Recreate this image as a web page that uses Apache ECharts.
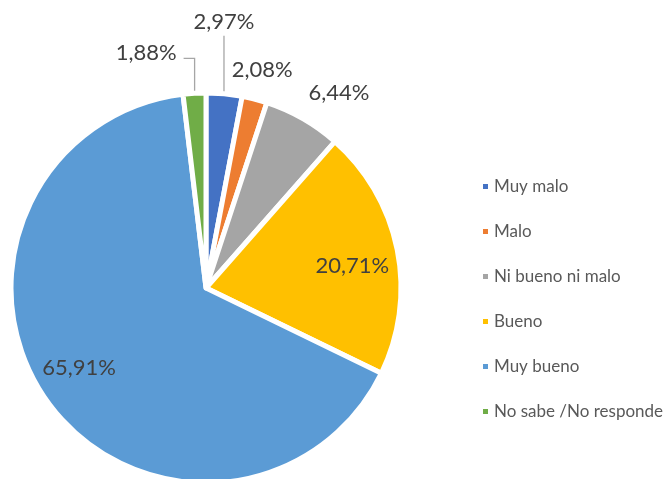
<!DOCTYPE html>
<html>
<head>
<meta charset="utf-8">
<script src="https://cdn.jsdelivr.net/npm/echarts@6/dist/echarts.min.js"></script>
<style>
  html, body { margin: 0; padding: 0; background: #fff; }
  #main { width: 664px; height: 479px; }
</style>
</head>
<body>
<div id="main"></div>
<script>
// datos (porcentajes)
const categories = ["Muy malo", "Malo", "Ni bueno ni malo", "Bueno", "Muy bueno", "No sabe /No responde"];
const values = [2.97, 2.08, 6.44, 20.71, 65.91, 1.88];
const colors = ["#4472C4", "#ED7D31", "#A5A5A5", "#FFC000", "#5B9BD5", "#70AD47"];

const cx = 206, cy = 288, R = 195;
const total = values.reduce((a, b) => a + b, 0);

// ángulo medio de cada porción (radianes, sentido horario desde las 12)
function midAngle(i) {
  let s = 0;
  for (let k = 0; k < i; k++) s += values[k];
  return (90 - (s + values[i] / 2) / total * 360) * Math.PI / 180;
}

function fmt(v) {
  return v.toFixed(2).replace(".", ",") + "%";
}

const chart = echarts.init(document.getElementById("main"));

chart.setOption({
  animation: false,
  color: colors,
  legend: {
    orient: "vertical",
    left: 476,
    top: 173,
    icon: "rect",
    itemWidth: 7,
    itemHeight: 7,
    itemGap: 28,
    textStyle: { fontFamily: "Lato", fontSize: 17, color: "#595959", lineHeight: 16 },
  },
  series: [
    {
      type: "pie",
      center: [cx, cy],
      radius: R,
      startAngle: 90,
      clockwise: true,
      avoidLabelOverlap: false,
      data: categories.map((c, i) => ({
        name: c,
        value: values[i],
        labelLine: { show: i === 0 || i === 5 },
      })),
      itemStyle: { borderColor: "#fff", borderWidth: 5 },
      label: {
        show: true,
        formatter: (p) => fmt(p.value),
        fontFamily: "Lato",
        fontSize: 22,
        color: "#404040",
      },
      labelLine: {
        lineStyle: { color: "#A6A6A6", width: 1.3 },
      },
      labelLayout: function (p) {
        const i = p.dataIndex;
        const a = midAngle(i);
        const r0 = R - 2;
        const ex = cx + r0 * Math.cos(a);
        const ey = cy - r0 * Math.sin(a);
        if (i === 0) {
          const top = ey - 60;
          return {
            x: ex, y: top - 14, align: "center", verticalAlign: "middle",
            labelLinePoints: [[ex, ey], [ex, top], [ex, top]],
          };
        }
        if (i === 5) {
          const top = ey - 37;
          return {
            x: ex - 18, y: top - 5, align: "right", verticalAlign: "middle",
            labelLinePoints: [[ex, ey], [ex, top], [ex - 11, top]],
          };
        }
        // [radio, desvío angular en grados]
        const place = { 1: [225, 0], 2: [236, -4.5], 3: [148, -2.8], 4: [150, -3.2] }[i];
        const b = a + place[1] * Math.PI / 180;
        return {
          x: cx + place[0] * Math.cos(b),
          y: cy - place[0] * Math.sin(b),
          align: "center",
          verticalAlign: "middle",
        };
      },
    },
  ],
});
</script>
</body>
</html>
